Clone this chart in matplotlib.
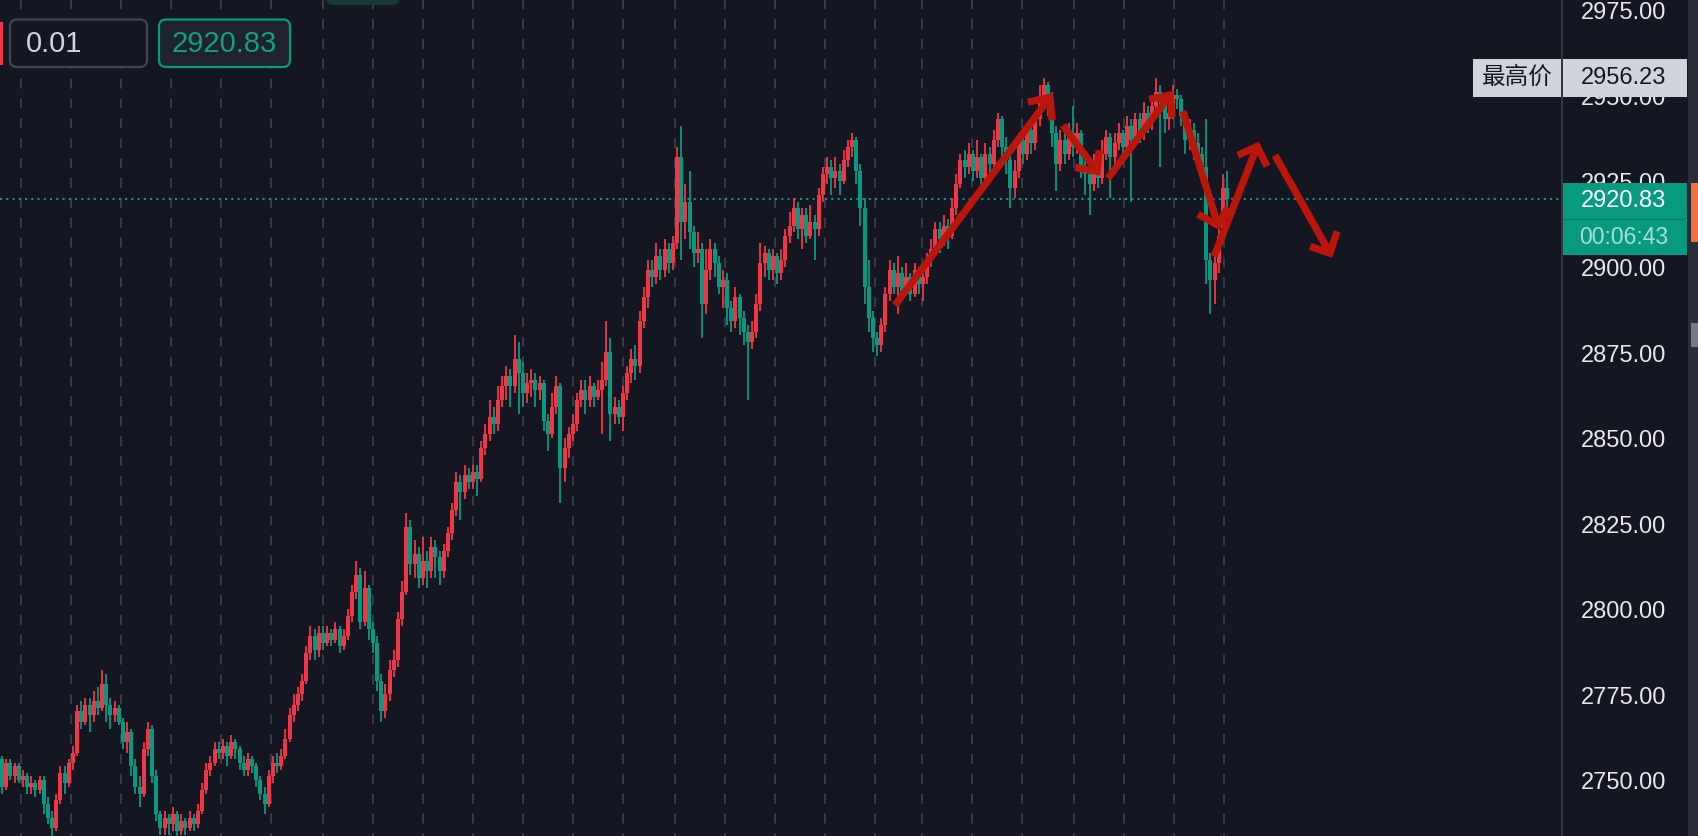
import matplotlib
matplotlib.use("Agg")
import matplotlib.pyplot as plt
from matplotlib.patches import Rectangle, FancyBboxPatch
from matplotlib.lines import Line2D
import numpy as np

# ---------------- data ----------------
first_open = 2757
closes = [
    2749, 2756, 2752, 2755, 2751, 2752, 2749, 2750, 2748, 2751,
    2744, 2740, 2737, 2745, 2753, 2750, 2756, 2759, 2771, 2768,
    2773, 2770, 2774, 2772, 2779, 2773, 2770, 2772, 2768, 2762,
    2765, 2755, 2749, 2747, 2760, 2766, 2752, 2741, 2737, 2740,
    2738, 2741, 2736, 2739, 2737, 2740, 2738, 2742, 2748, 2754,
    2756, 2760, 2759, 2761, 2758, 2762, 2760, 2756, 2754, 2757,
    2755, 2751, 2747, 2744, 2752, 2756, 2755, 2758, 2763, 2770,
    2773, 2776, 2780, 2788, 2793, 2789, 2794, 2791, 2794, 2792,
    2795, 2790, 2793, 2799, 2806, 2811, 2797, 2807, 2795, 2791,
    2780, 2771, 2776, 2783, 2786, 2798, 2806, 2825, 2814, 2817,
    2810, 2815, 2812, 2819, 2816, 2812, 2818, 2823, 2830, 2838,
    2835, 2840, 2838, 2841, 2839, 2848, 2852, 2857, 2855, 2862,
    2866, 2869, 2866, 2874, 2870, 2864, 2867, 2868, 2865, 2867,
    2856, 2852, 2860, 2866, 2842, 2848, 2852, 2855, 2862, 2865,
    2862, 2866, 2863, 2865, 2868, 2876, 2858, 2860, 2857, 2864,
    2870, 2874, 2872, 2885, 2892, 2900, 2898, 2904, 2900, 2906,
    2902, 2908, 2933, 2914, 2920, 2911, 2905, 2906, 2890, 2900,
    2906, 2902, 2895, 2897, 2889, 2885, 2892, 2886, 2882, 2879,
    2882, 2890, 2902, 2905, 2900, 2904, 2899, 2903, 2910, 2913,
    2918, 2912, 2916, 2910, 2914, 2912, 2922, 2928, 2930, 2927,
    2929, 2926, 2932, 2936, 2938, 2929, 2918, 2895, 2886, 2880,
    2878, 2884, 2893, 2900, 2895, 2899, 2894, 2898, 2893, 2900,
    2896, 2898, 2903, 2906, 2912, 2909, 2913, 2910, 2918, 2925,
    2932, 2930, 2934, 2929, 2933, 2927, 2934, 2931, 2938, 2944,
    2936, 2932, 2924, 2929, 2938, 2934, 2941, 2937, 2944, 2950,
    2954, 2948, 2940, 2931, 2938, 2934, 2940, 2936, 2940, 2930,
    2928, 2925, 2930, 2927, 2934, 2939, 2933, 2937, 2940, 2936,
    2942, 2938, 2944, 2940, 2946, 2943, 2948, 2952, 2950, 2944,
    2946, 2951, 2950, 2945, 2938, 2941, 2937, 2934, 2930, 2903,
    2897, 2902, 2910, 2924, 2920.83]

highs = [
    2758, 2757, 2757, 2756, 2756, 2754, 2753, 2752, 2751, 2752,
    2752, 2746, 2742, 2747, 2755, 2755, 2757, 2761, 2773, 2774,
    2775, 2775, 2777, 2778, 2783, 2782, 2775, 2774, 2773, 2769,
    2768, 2766, 2757, 2752, 2762, 2768, 2767, 2754, 2742, 2742,
    2741, 2743, 2742, 2741, 2740, 2742, 2741, 2744, 2750, 2756,
    2758, 2762, 2762, 2763, 2762, 2764, 2763, 2761, 2758, 2759,
    2758, 2756, 2752, 2749, 2754, 2758, 2759, 2760, 2766, 2772,
    2776, 2778, 2782, 2790, 2796, 2795, 2796, 2796, 2796, 2795,
    2797, 2796, 2795, 2801, 2808, 2815, 2813, 2812, 2808, 2797,
    2793, 2782, 2779, 2786, 2789, 2800, 2809, 2829, 2827, 2821,
    2819, 2822, 2818, 2822, 2821, 2818, 2820, 2825, 2832, 2841,
    2840, 2843, 2842, 2843, 2843, 2850, 2855, 2862, 2860, 2866,
    2869, 2872, 2871, 2881, 2879, 2873, 2870, 2871, 2870, 2869,
    2868, 2858, 2864, 2869, 2867, 2851, 2854, 2858, 2864, 2868,
    2868, 2869, 2867, 2868, 2873, 2885, 2880, 2863, 2862, 2866,
    2872, 2877, 2878, 2888, 2895, 2903, 2903, 2908, 2906, 2909,
    2908, 2910, 2936, 2942, 2925, 2929, 2913, 2911, 2908, 2906,
    2909, 2908, 2904, 2900, 2899, 2891, 2895, 2893, 2888, 2884,
    2885, 2893, 2908, 2907, 2906, 2906, 2905, 2906, 2912, 2917,
    2921, 2920, 2918, 2918, 2919, 2916, 2924, 2930, 2933, 2932,
    2933, 2931, 2935, 2938, 2940, 2939, 2931, 2921, 2903, 2888,
    2882, 2886, 2895, 2903, 2902, 2904, 2901, 2902, 2899, 2902,
    2901, 2900, 2905, 2909, 2914, 2914, 2916, 2915, 2921, 2928,
    2934, 2935, 2937, 2935, 2938, 2934, 2937, 2936, 2941, 2946,
    2945, 2939, 2934, 2932, 2940, 2940, 2943, 2943, 2946, 2954,
    2956, 2955, 2952, 2942, 2941, 2942, 2943, 2948, 2943, 2941,
    2933, 2931, 2934, 2932, 2938, 2941, 2940, 2940, 2943, 2941,
    2945, 2944, 2946, 2946, 2949, 2948, 2951, 2956.23, 2954, 2951,
    2949, 2954, 2953, 2951, 2946, 2944, 2943, 2940, 2936, 2944,
    2905, 2905, 2912, 2928, 2929]

lows = [
    2747, 2748, 2751, 2750, 2750, 2749, 2747, 2747, 2746, 2747,
    2741, 2738, 2734, 2736, 2744, 2747, 2749, 2754, 2758, 2766,
    2767, 2765, 2768, 2770, 2771, 2768, 2766, 2768, 2767, 2760,
    2759, 2752, 2747, 2743, 2746, 2758, 2750, 2739, 2735, 2735,
    2735, 2736, 2734, 2735, 2735, 2736, 2736, 2737, 2741, 2747,
    2752, 2755, 2757, 2757, 2755, 2757, 2757, 2754, 2752, 2752,
    2753, 2749, 2745, 2741, 2743, 2750, 2753, 2754, 2757, 2762,
    2768, 2771, 2774, 2779, 2786, 2786, 2787, 2789, 2790, 2790,
    2791, 2788, 2789, 2792, 2797, 2804, 2795, 2796, 2792, 2788,
    2777, 2768, 2769, 2774, 2781, 2784, 2796, 2805, 2811, 2810,
    2807, 2808, 2807, 2810, 2810, 2808, 2810, 2816, 2821, 2828,
    2827, 2833, 2836, 2836, 2834, 2838, 2846, 2850, 2852, 2853,
    2860, 2862, 2860, 2864, 2858, 2860, 2861, 2863, 2860, 2862,
    2853, 2847, 2851, 2858, 2832, 2838, 2845, 2850, 2853, 2860,
    2858, 2860, 2860, 2862, 2852, 2866, 2850, 2855, 2855, 2853,
    2862, 2867, 2868, 2870, 2883, 2889, 2895, 2896, 2897, 2898,
    2899, 2900, 2906, 2903, 2909, 2906, 2901, 2902, 2880, 2887,
    2897, 2898, 2893, 2889, 2884, 2882, 2883, 2881, 2878, 2862,
    2877, 2880, 2888, 2898, 2897, 2897, 2896, 2897, 2901, 2908,
    2911, 2909, 2906, 2908, 2909, 2903, 2910, 2920, 2925, 2922,
    2924, 2922, 2925, 2930, 2933, 2925, 2913, 2890, 2882, 2876,
    2875, 2876, 2882, 2891, 2893, 2887, 2892, 2893, 2891, 2892,
    2893, 2891, 2896, 2901, 2904, 2905, 2907, 2906, 2909, 2916,
    2924, 2927, 2928, 2926, 2927, 2922, 2925, 2928, 2930, 2936,
    2933, 2928, 2918, 2921, 2927, 2931, 2932, 2934, 2935, 2942,
    2949, 2945, 2936, 2923, 2929, 2931, 2932, 2933, 2934, 2927,
    2922, 2916, 2923, 2924, 2925, 2932, 2921, 2930, 2935, 2931,
    2934, 2920, 2936, 2937, 2938, 2940, 2941, 2946, 2930, 2940,
    2941, 2944, 2947, 2942, 2934, 2935, 2932, 2929, 2925, 2896,
    2887, 2890, 2899, 2908, 2917]

price_ticks = [2750, 2775, 2800, 2825, 2850, 2875, 2900, 2925, 2950, 2975]
last_price = 2920.83
high_price = 2956.23
countdown = "00:06:43"
qty_text = "0.01"
high_label = "最高价"

# session boundaries (candle index) for vertical dashed grid
session_breaks = [4.5, 16.5, 28.5, 40.5, 52.5, 64.5, 77, 89, 101, 113, 125,
                  137, 149, 161.5, 173.5, 185.5, 197.5, 209.5, 220.75,
                  232.75, 244.75, 257.25, 269.25, 281.25, 293.25]

# hand-drawn arrows: (tail, tip, arm1, arm2) in (candle index, price)
arrows = [
    ((214.3, 2889.7), (251.5, 2950.5), (246.2, 2949.0), (252.0, 2943.7)),
    ((254.6, 2942.3), (262.8, 2928.8), (257.5, 2930.0), (263.3, 2935.0)),
    ((265.4, 2926.8), (280.3, 2951.1), (275.3, 2949.9), (280.8, 2944.6)),
    ((283.4, 2946.4), (291.8, 2913.1), (287.0, 2916.3), (294.2, 2918.3)),
    ((290.9, 2904.0), (301.2, 2936.1), (296.6, 2933.5), (303.6, 2930.3)),
    ((305.5, 2933.5), (318.7, 2904.9), (313.9, 2906.9), (320.4, 2911.3)),
]

# ---------------- style ----------------
W, H = 1698, 836
BG = "#141722"
RED = "#f23645"
TEAL = "#089981"
ARROW = "#bb160c"
PITCH_PX = 50 / 12
PLOT_RIGHT = 1562
YMIN, YMAX = 2734.6, 2978.9

fig = plt.figure(figsize=(W / 100, H / 100), dpi=100)
fig.patch.set_facecolor(BG)
ax = fig.add_axes([0, 0, PLOT_RIGHT / W, 1])
ax.set_facecolor(BG)
ax.set_xlim(-0.5, PLOT_RIGHT / PITCH_PX - 0.5)
ax.set_ylim(YMIN, YMAX)
ax.axis("off")

# grid
for g in session_breaks:
    ax.axvline(g, color="#3a3e4a", lw=1.3, ls=(4.05, (5.5, 5.5)), zorder=1)

# candles
c = np.array(closes, dtype=float)
o = np.concatenate([[first_open], c[:-1]])
h = np.maximum(np.array(highs, dtype=float), np.maximum(o, c))
l = np.minimum(np.array(lows, dtype=float), np.minimum(o, c))
x = np.arange(len(c))
cols = np.where(c >= o, RED, TEAL)
ax.vlines(x, l, h, colors=cols, lw=1.3, zorder=3)
ax.bar(x, np.maximum(np.abs(c - o), 0.4), bottom=np.minimum(o, c), width=0.96,
       color=cols, linewidth=0, zorder=3)

# last price dotted line
ax.axhline(last_price, color=TEAL, lw=1.5, ls=(0, (1.0, 2.0)), zorder=2)

# arrows
for tail, tip, a1, a2 in arrows:
    ax.plot([tail[0], tip[0]], [tail[1], tip[1]], color=ARROW, lw=5.2,
            solid_capstyle="butt", zorder=6)
    ax.plot([a1[0], tip[0], a2[0]], [a1[1], tip[1], a2[1]], color=ARROW, lw=5.2,
            solid_capstyle="butt", solid_joinstyle="miter", zorder=6)


def fy(p):
    return (p - YMIN) / (YMAX - YMIN)


def px_rect(x0, y0, x1, y1, **kw):
    r = Rectangle((x0 / W, 1 - y1 / H), (x1 - x0) / W, (y1 - y0) / H,
                  transform=fig.transFigure, **kw)
    fig.add_artist(r)
    return r


# right price scale
fig.add_artist(Line2D([PLOT_RIGHT / W] * 2, [0, 1], transform=fig.transFigure,
                      color="#3a3e4a", lw=1.2, zorder=2))
px_rect(1688, 0, 1698, 836, facecolor="#2a2e39", edgecolor="none", zorder=1)
px_rect(1691, 183, 1698, 242, facecolor="#f0713f", edgecolor="none", zorder=2)
px_rect(1691, 323, 1698, 347, facecolor="#787b86", edgecolor="none", zorder=2)

yl = (1 - fy(last_price)) * H
for p in price_ticks:
    tx = fig.text(1624 / W, fy(p), f"{p:.2f}", ha="center", va="center",
                  color="#e6e8ee", fontsize=17, family="Liberation Sans", zorder=2)
    yp = (1 - fy(p)) * H
    if abs(yp - yl) < 30:
        # partly covered by the last-price tag: keep only the visible sliver
        clip = px_rect(1563, 0, 1687, 183, facecolor="none", edgecolor="none", zorder=0)
        tx.set_clip_path(clip)

# highest price label
yh = (1 - fy(high_price)) * H
px_rect(1473, yh - 19, 1561, yh + 19, facecolor="#d1d4dc", edgecolor="none", zorder=5)
px_rect(1563, yh - 19, 1687, yh + 19, facecolor="#d1d4dc", edgecolor="none", zorder=5)
fig.text(1517 / W, 1 - yh / H, high_label, ha="center", va="center",
         color="#131722", fontsize=17, family=["Noto Sans CJK SC", "DejaVu Sans"], zorder=6)
fig.text(1624 / W, 1 - yh / H, f"{high_price:.2f}", ha="center", va="center",
         color="#131722", fontsize=17, family="Liberation Sans", zorder=6)

# last price label + countdown
px_rect(1563, 183, 1687, 219, facecolor=TEAL, edgecolor="none", zorder=5)
px_rect(1563, 219, 1687, 255, facecolor=TEAL, edgecolor="none", zorder=5)
fig.add_artist(Line2D([1563 / W, 1687 / W], [1 - 219 / H] * 2, transform=fig.transFigure,
                      color="#0b7a68", lw=1, zorder=6))
fig.text(1624 / W, 1 - 201 / H, f"{last_price:.2f}", ha="center", va="center",
         color="#ffffff", fontsize=17, family="Liberation Sans", zorder=7)
fig.text(1624 / W, 1 - 237.5 / H, countdown, ha="center", va="center",
         color="#a8dfd3", fontsize=16.5, family="Liberation Sans", zorder=7)

# top-left order widgets
t = fig.dpi_scale_trans
fig.add_artist(FancyBboxPatch((10 / 100, (H - 67) / 100), 137 / 100, 47.5 / 100,
                              boxstyle="round,pad=0,rounding_size=0.07", transform=t,
                              facecolor=BG, edgecolor="#434651", lw=1.6, zorder=5))
fig.add_artist(FancyBboxPatch((159 / 100, (H - 67) / 100), 131 / 100, 47.5 / 100,
                              boxstyle="round,pad=0,rounding_size=0.07", transform=t,
                              facecolor="#1f232e", edgecolor=TEAL, lw=1.6, zorder=5))
px_rect(0, 22, 2.5, 65, facecolor=RED, edgecolor="none", zorder=5)
fig.text(26 / W, 1 - 44 / H, qty_text, ha="left", va="center", color="#d1d4dc",
         fontsize=21, family="Liberation Sans", zorder=6)
fig.text(224.5 / W, 1 - 44 / H, f"{last_price:.2f}", ha="center", va="center",
         color="#0fa085", fontsize=21, family="Liberation Sans", zorder=6)

# cut-off toolbar pill at the top edge
fig.add_artist(FancyBboxPatch((326 / 100, (H - 5) / 100), 74 / 100, 0.3,
                              boxstyle="round,pad=0,rounding_size=0.08", transform=t,
                              facecolor="#193733", edgecolor="none", zorder=5))

fig.savefig("out.png", dpi=100, facecolor=BG)
